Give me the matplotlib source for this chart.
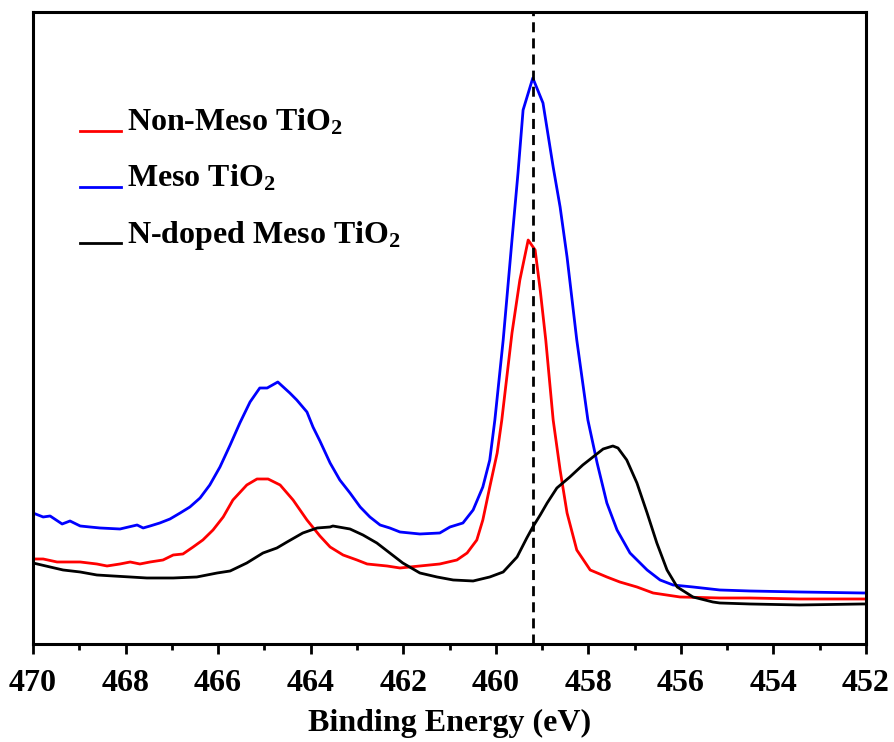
import numpy as np
import matplotlib
matplotlib.use("Agg")
import matplotlib.pyplot as plt
from matplotlib.legend_handler import HandlerLine2D
from matplotlib.ticker import MultipleLocator

plt.rcParams['font.family'] = ['Liberation Serif', 'DejaVu Serif']
plt.rcParams['font.weight'] = 'bold'
plt.rcParams['mathtext.fontset'] = 'custom'
plt.rcParams['mathtext.rm'] = 'Liberation Serif:bold'
plt.rcParams['mathtext.bf'] = 'Liberation Serif:bold'
plt.rcParams['mathtext.it'] = 'Liberation Serif:bold'
plt.rcParams['mathtext.default'] = 'rm'

# Binding energy (eV) and intensity (a.u.)
meso_E = [470.00, 469.78, 469.63, 469.37, 469.20, 468.98, 468.77, 468.55, 468.12, 467.75,
          467.62, 467.47, 467.26, 467.04, 466.82, 466.61, 466.39, 466.18, 465.96, 465.74,
          465.53, 465.31, 465.10, 464.94, 464.71, 464.45, 464.30, 464.08, 463.95, 463.80,
          463.58, 463.37, 463.15, 462.93, 462.72, 462.50, 462.29, 462.07, 461.64, 461.21,
          460.99, 460.71, 460.49, 460.28, 460.13, 460.02, 459.84, 459.65, 459.52, 459.41,
          459.20, 458.98, 458.76, 458.61, 458.46, 458.25, 458.01, 457.81, 457.60, 457.38,
          457.10, 456.73, 456.45, 456.17, 455.74, 455.16, 454.51, 453.43, 452.07, 452.00]
meso_I = [131, 127, 128, 120, 123, 118, 117, 116, 115, 119,
          116, 118, 121, 125, 131, 137, 146, 159, 177, 199,
          221, 242, 256, 256, 262, 251, 244, 232, 217, 203,
          181, 164, 151, 137, 127, 119, 116, 112, 110, 111,
          117, 121, 134, 157, 184, 224, 304, 404, 471, 534,
          566, 541, 477, 437, 387, 304, 224, 181, 141, 114,
          91, 74, 64, 59, 57, 54, 53, 52, 51, 51]

nonmeso_E = [470.00, 469.78, 469.48, 468.98, 468.62, 468.40, 468.12, 467.90, 467.69, 467.47,
             467.19, 466.97, 466.76, 466.54, 466.33, 466.11, 465.89, 465.68, 465.38, 465.16,
             464.92, 464.66, 464.38, 464.08, 463.80, 463.58, 463.30, 463.00, 462.78, 462.35,
             462.07, 461.64, 461.21, 460.84, 460.62, 460.41, 460.28, 460.13, 459.97, 459.87,
             459.65, 459.48, 459.30, 459.15, 459.04, 458.92, 458.76, 458.61, 458.46, 458.25,
             457.96, 457.60, 457.32, 456.95, 456.60, 456.02, 455.16, 454.51, 453.43, 452.07,
             452.00]
nonmeso_I = [85, 85, 82, 82, 80, 78, 80, 82, 80, 82,
             84, 89, 90, 97, 104, 114, 127, 144, 159, 165,
             165, 159, 144, 124, 108, 97, 89, 84, 80, 78,
             76, 78, 80, 84, 91, 104, 124, 157, 191, 224,
             311, 364, 404, 394, 354, 304, 224, 174, 131, 94,
             74, 67, 62, 57, 51, 47, 46, 46, 45, 45,
             45]

ndoped_E = [470.00, 469.63, 469.35, 468.98, 468.62, 468.27, 467.90, 467.54, 466.97, 466.46,
            466.02, 465.74, 465.38, 465.03, 464.73, 464.51, 464.17, 463.86, 463.58, 463.52,
            463.15, 462.87, 462.57, 462.29, 462.01, 461.64, 461.27, 460.92, 460.49, 460.13,
            459.84, 459.54, 459.33, 459.20, 459.04, 458.89, 458.68, 458.40, 458.12, 457.90,
            457.68, 457.47, 457.36, 457.17, 456.95, 456.73, 456.52, 456.30, 456.08, 455.74,
            455.31, 455.16, 454.51, 453.43, 452.07, 452.00]
ndoped_I = [81, 77, 74, 72, 69, 68, 67, 66, 66, 67,
            71, 73, 81, 91, 96, 102, 111, 116, 117, 118,
            115, 109, 101, 91, 81, 71, 67, 64, 63, 67,
            72, 87, 106, 117, 129, 141, 156, 167, 179, 187,
            195, 198, 196, 184, 161, 131, 101, 74, 57, 47,
            42, 41, 40, 39, 40, 40]

peak_ref = 459.2
labels = ['Non-Meso TiO$_2$', 'Meso TiO$_2$', 'N-doped Meso TiO$_2$']
colors = ['#ff0000', '#0000ff', '#000000']

fig = plt.figure(figsize=(8.94, 7.42), dpi=100)
ax = fig.add_axes([0.0369, 0.1321, 0.9318, 0.8517])

lw = 2.0
ax.plot(nonmeso_E, nonmeso_I, color=colors[0], lw=lw, label=labels[0])
ax.plot(meso_E, meso_I, color=colors[1], lw=lw, label=labels[1])
ax.plot(ndoped_E, ndoped_I, color=colors[2], lw=lw, label=labels[2])
ax.axvline(peak_ref, color='black', lw=2.0, linestyle=(0, (3.6, 2.2)))

ax.set_xlim(470, 452)
ax.set_ylim(0, 632)
ax.xaxis.set_major_locator(MultipleLocator(2))
ax.xaxis.set_minor_locator(MultipleLocator(1))
ax.set_yticks([])
ax.tick_params(axis='x', which='major', direction='out', length=7, width=2, pad=11,
               labelsize=23)
ax.tick_params(axis='x', which='minor', direction='out', length=4, width=2)
for lab in ax.get_xticklabels():
    lab.set_fontweight('bold')
for sp in ax.spines.values():
    sp.set_linewidth(2.2)
ax.set_xlabel('Binding Energy (eV)', fontsize=23, fontweight='bold', labelpad=8)


class BaselineHandler(HandlerLine2D):
    def create_artists(self, legend, orig_handle, xdescent, ydescent, width, height,
                       fontsize, trans):
        artists = super().create_artists(legend, orig_handle, xdescent, ydescent, width,
                                         height, fontsize, trans)
        for a in artists:
            a.set_ydata(np.full_like(np.asarray(a.get_xdata(), dtype=float), 0.0))
        return artists


leg = ax.legend(loc='upper left', bbox_to_anchor=(0.022, 0.895), frameon=False,
                fontsize=23, handlelength=1.28, handletextpad=0.19, labelspacing=0.80,
                handler_map={matplotlib.lines.Line2D: BaselineHandler()})
for t in leg.get_texts():
    t.set_fontweight('bold')

fig.savefig('out.png', dpi=100)
